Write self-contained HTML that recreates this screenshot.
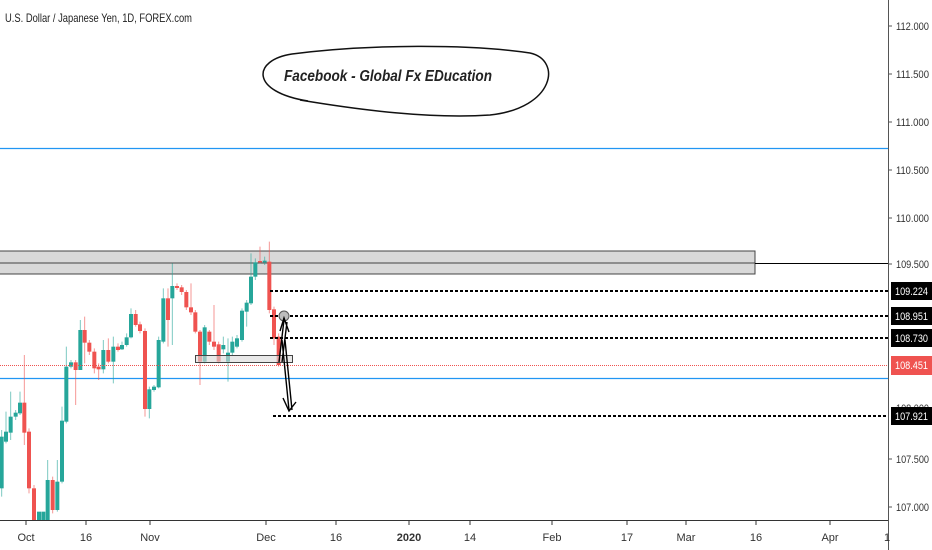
<!DOCTYPE html>
<html><head><meta charset="utf-8"><style>
html,body{margin:0;padding:0;background:#fff;}
svg{display:block;font-family:"Liberation Sans",sans-serif;}
</style></head><body>
<svg width="932" height="550" viewBox="0 0 932 550" xmlns="http://www.w3.org/2000/svg">
<rect width="932" height="550" fill="#fff"/>
<rect x="-2" y="251" width="757" height="12" fill="#d9d9d9" stroke="#444" stroke-width="1"/>
<rect x="-2" y="263" width="757" height="11" fill="#d9d9d9" stroke="#444" stroke-width="1"/>
<line x1="755" y1="263.5" x2="888" y2="263.5" stroke="#000" stroke-width="1"/>
<line x1="0" y1="148.5" x2="888" y2="148.5" stroke="#2196f3" stroke-width="1.2"/>
<line x1="0" y1="378.5" x2="888" y2="378.5" stroke="#2196f3" stroke-width="1.2"/>
<g transform="translate(0,230) scale(0.33333)">
<g stroke-width="3">
<path d="M5 600V800M18 545V640M32 485V630M47 540V570M60 485V555M143 690V870M172 690V845M186 530V760M199 350V580M213 390V415M241 270V420M310 330V430M340 320V460M366 335V360M380 310V350M393 235V325M448 470V565M462 465V485M476 320V475M490 175V340M517 100V345M614 285V400M670 320V370M684 325V455M697 320V375M711 315V355M726 235V335M740 210V290M753 70V225M766 85V150M794 80V105" stroke="#26a69a" opacity="0.6"/>
<path d="M73 375V645M87 595V790M102 765V870M158 740V850M227 390V525M254 260V400M268 330V375M283 355V430M296 400V450M325 325V400M354 340V365M407 240V290M420 275V310M435 295V560M504 175V350M531 160V180M545 165V195M559 180V240M573 160V255M586 240V310M600 300V465M628 300V345M642 225V360M656 335V400M780 50V100M808 35V250M822 230V345M836 310V410" stroke="#ef5350" opacity="0.6"/>
</g>
<g fill="#26a69a">
<rect x="0" y="620" width="11" height="155"/><rect x="12" y="605" width="12" height="30"/><rect x="26" y="560" width="12" height="48"/><rect x="41" y="548" width="12" height="12"/><rect x="54" y="518" width="12" height="32"/>
<rect x="111" y="845" width="12" height="25"/><rect x="124" y="845" width="12" height="25"/><rect x="137" y="750" width="12" height="120"/><rect x="166" y="755" width="12" height="85"/><rect x="180" y="572" width="12" height="183"/><rect x="193" y="410" width="12" height="165"/><rect x="207" y="397" width="12" height="13"/><rect x="235" y="300" width="12" height="120"/>
<rect x="304" y="360" width="12" height="58"/><rect x="334" y="350" width="12" height="45"/><rect x="360" y="345" width="12" height="13"/><rect x="374" y="322" width="12" height="23"/><rect x="387" y="252" width="12" height="70"/>
<rect x="442" y="478" width="12" height="59"/><rect x="456" y="470" width="12" height="10"/><rect x="470" y="330" width="12" height="142"/><rect x="484" y="205" width="12" height="130"/><rect x="511" y="168" width="12" height="37"/>
<rect x="608" y="292" width="12" height="103"/><rect x="664" y="345" width="12" height="13"/><rect x="678" y="368" width="12" height="27"/><rect x="691" y="335" width="12" height="33"/><rect x="705" y="325" width="12" height="25"/><rect x="720" y="242" width="12" height="88"/><rect x="734" y="218" width="12" height="27"/><rect x="747" y="140" width="12" height="80"/><rect x="760" y="97" width="12" height="43"/><rect x="788" y="92" width="12" height="5"/>
</g>
<g fill="#ef5350">
<rect x="67" y="518" width="12" height="90"/><rect x="81" y="605" width="12" height="170"/><rect x="96" y="775" width="12" height="95"/><rect x="152" y="750" width="12" height="90"/><rect x="221" y="397" width="12" height="23"/><rect x="248" y="300" width="12" height="38"/><rect x="262" y="338" width="12" height="27"/><rect x="277" y="365" width="12" height="50"/><rect x="290" y="410" width="12" height="8"/><rect x="319" y="360" width="12" height="35"/><rect x="348" y="350" width="12" height="10"/>
<rect x="401" y="252" width="12" height="33"/><rect x="414" y="283" width="12" height="20"/><rect x="429" y="303" width="12" height="234"/><rect x="498" y="205" width="12" height="65"/><rect x="525" y="168" width="12" height="6"/><rect x="539" y="172" width="12" height="14"/><rect x="553" y="186" width="12" height="46"/><rect x="567" y="232" width="12" height="15"/><rect x="580" y="247" width="12" height="58"/><rect x="594" y="305" width="12" height="90"/><rect x="622" y="305" width="12" height="30"/><rect x="636" y="335" width="12" height="15"/><rect x="650" y="343" width="12" height="52"/>
<rect x="774" y="93" width="12" height="4"/><rect x="802" y="95" width="12" height="145"/><rect x="816" y="238" width="12" height="87"/><rect x="830" y="320" width="12" height="85"/>
</g>
</g>
<rect x="195.5" y="355.5" width="97" height="7" fill="#d9d9d9" fill-opacity="0.6" stroke="#444" stroke-width="1"/>
<line x1="0" y1="365.5" x2="888" y2="365.5" stroke="#ef5350" stroke-width="1" stroke-dasharray="1,1"/>
<g stroke="#000" stroke-width="2" stroke-dasharray="3,2">
<line x1="270" y1="291" x2="888" y2="291"/>
<line x1="270" y1="316" x2="888" y2="316"/>
<line x1="270" y1="338" x2="888" y2="338"/>
<line x1="273" y1="416" x2="888" y2="416"/>
</g>
<circle cx="284" cy="316" r="5" fill="#bdbdbd" stroke="#555" stroke-width="1"/>
<g stroke="#000" stroke-width="1.4" fill="none">
<path d="M279 362L284 320M282 362L287 322M280 331L284 318L289 332"/>
<path d="M282 340L289 410M285 340L292 410M283 398L289 411L296 402"/>
</g>
<path d="M308 101C250 92 252 60 292 54C370 44 470 44 530 53C562 60 555 108 490 115C430 119 360 110 300 100" fill="none" stroke="#111" stroke-width="1.5"/>
<text x="284" y="81" font-size="16" font-weight="bold" font-style="italic" fill="#222" textLength="208" lengthAdjust="spacingAndGlyphs">Facebook - Global Fx EDucation</text>
<text x="5" y="22" font-size="12" fill="#222" textLength="187" lengthAdjust="spacingAndGlyphs">U.S. Dollar / Japanese Yen, 1D, FOREX.com</text>
<line x1="888.5" y1="0" x2="888.5" y2="550" stroke="#555" stroke-width="1"/>
<line x1="0" y1="520.5" x2="888" y2="520.5" stroke="#333" stroke-width="1"/>
<g font-size="11" fill="#333">
<text x="896" y="30" textLength="33" lengthAdjust="spacingAndGlyphs">112.000</text>
<text x="896" y="78" textLength="33" lengthAdjust="spacingAndGlyphs">111.500</text>
<text x="896" y="126" textLength="33" lengthAdjust="spacingAndGlyphs">111.000</text>
<text x="896" y="174" textLength="33" lengthAdjust="spacingAndGlyphs">110.500</text>
<text x="896" y="222" textLength="33" lengthAdjust="spacingAndGlyphs">110.000</text>
<text x="896" y="268" textLength="33" lengthAdjust="spacingAndGlyphs">109.500</text>
<text x="896" y="463" textLength="33" lengthAdjust="spacingAndGlyphs">107.500</text>
<text x="896" y="511" textLength="33" lengthAdjust="spacingAndGlyphs">107.000</text>
<text x="896" y="412" textLength="33" lengthAdjust="spacingAndGlyphs">108.000</text>
</g>
<g stroke="#555"><line x1="888" y1="26" x2="892" y2="26"/><line x1="888" y1="74" x2="892" y2="74"/><line x1="888" y1="122" x2="892" y2="122"/><line x1="888" y1="170" x2="892" y2="170"/><line x1="888" y1="218" x2="892" y2="218"/><line x1="888" y1="264" x2="892" y2="264"/><line x1="888" y1="459" x2="892" y2="459"/><line x1="888" y1="507" x2="892" y2="507"/></g>
<rect x="891" y="282" width="41" height="18" fill="#000"/>
<rect x="891" y="307" width="41" height="18" fill="#000"/>
<rect x="891" y="329" width="41" height="18" fill="#000"/>
<rect x="891" y="356" width="41" height="19" fill="#ef5350"/>
<rect x="891" y="407" width="41" height="18" fill="#000"/>
<g font-size="11" fill="#fff">
<text x="895" y="295" textLength="33" lengthAdjust="spacingAndGlyphs">109.224</text>
<text x="895" y="320" textLength="33" lengthAdjust="spacingAndGlyphs">108.951</text>
<text x="895" y="342" textLength="33" lengthAdjust="spacingAndGlyphs">108.730</text>
<text x="895" y="369" textLength="33" lengthAdjust="spacingAndGlyphs">108.451</text>
<text x="895" y="420" textLength="33" lengthAdjust="spacingAndGlyphs">107.921</text>
</g>
<g stroke="#333"><line x1="26" y1="521" x2="26" y2="525"/><line x1="86" y1="521" x2="86" y2="525"/><line x1="150" y1="521" x2="150" y2="525"/><line x1="266" y1="521" x2="266" y2="525"/><line x1="336" y1="521" x2="336" y2="525"/><line x1="409" y1="521" x2="409" y2="525"/><line x1="470" y1="521" x2="470" y2="525"/><line x1="552" y1="521" x2="552" y2="525"/><line x1="627" y1="521" x2="627" y2="525"/><line x1="686" y1="521" x2="686" y2="525"/><line x1="756" y1="521" x2="756" y2="525"/><line x1="830" y1="521" x2="830" y2="525"/></g>
<g font-size="11" fill="#333" text-anchor="middle">
<text x="26" y="541">Oct</text><text x="86" y="541">16</text><text x="150" y="541">Nov</text><text x="266" y="541">Dec</text><text x="336" y="541">16</text><text x="409" y="541" font-weight="bold">2020</text><text x="470" y="541">14</text><text x="552" y="541">Feb</text><text x="627" y="541">17</text><text x="686" y="541">Mar</text><text x="756" y="541">16</text><text x="830" y="541">Apr</text><text x="887" y="541">1</text>
</g>
</svg>
</body></html>
